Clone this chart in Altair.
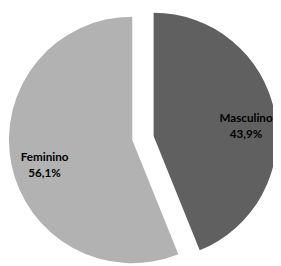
import altair as alt
import pandas as pd

sexo = ["Masculino", "Feminino"]
pct = [43.9, 56.1]
cores = ["#606060", "#b2b2b2"]
# slice centres (exploded pie), in view pixels
centro_x = [150, 128]
centro_y = [128, 132]
raio_rotulo = [97, 92]

df = pd.DataFrame({"sexo": sexo, "pct": pct, "ordem": [0, 1]})
df["rotulo"] = [f"{s}\n{str(p).replace('.', ',')}%" for s, p in zip(sexo, pct)]

layers = []
for s, cx, cy, rr in zip(sexo, centro_x, centro_y, raio_rotulo):
    sel = alt.datum.sexo == s
    base = alt.Chart(df).encode(
        theta=alt.Theta("pct:Q", stack=True),
        order=alt.Order("ordem:Q"),
        x=alt.value(cx),
        y=alt.value(cy),
    )
    arc = base.mark_arc(radius=127).encode(
        color=alt.Color("sexo:N", scale=alt.Scale(domain=sexo, range=cores), legend=None),
        opacity=alt.condition(sel, alt.value(1), alt.value(0)),
    )
    txt = base.mark_text(
        radius=rr, lineBreak="\n", fontWeight="bold", fontSize=12,
        font="Lato", color="black", lineHeight=17,
    ).encode(
        text="rotulo:N",
        opacity=alt.condition(sel, alt.value(1), alt.value(0)),
    )
    layers += [arc, txt]

chart = alt.layer(*layers).properties(
    width=273, height=258,
    autosize=alt.AutoSizeParams(type="none"),
    padding=0,
).configure_view(stroke=None)

chart.save("out.html", embed_options={"renderer": "svg", "actions": False})
